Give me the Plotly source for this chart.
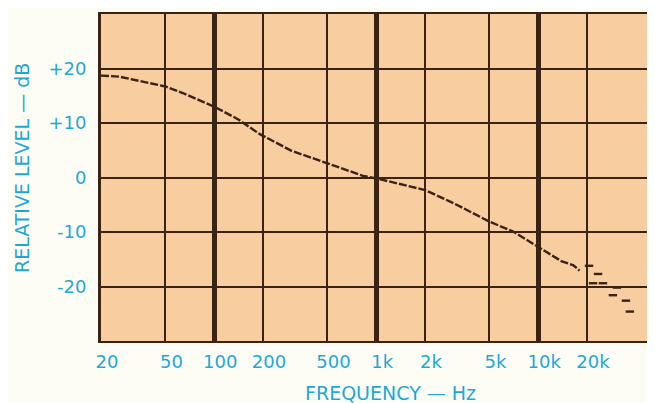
import plotly.graph_objects as go
import math

# Frequency response
freq_hz = [20, 26, 50, 64, 100, 140, 190, 300, 500, 830, 1050, 2000, 3000,
           5000, 7000, 10700, 14000, 16500, 18000]
level_db = [18.7, 18.5, 16.7, 15.5, 13.0, 10.7, 8.0, 4.9, 2.6, 0.3, -0.3, -2.3,
            -4.7, -8.1, -9.9, -13.3, -15.4, -16.1, -17.1]

# Scattered readings above 20 kHz
tail_freq_hz = [20600, 21800, 23400, 25100, 28900, 30600, 34800, 36800]
tail_level_db = [-16.2, -19.4, -17.7, -19.4, -21.6, -20.2, -22.6, -24.6]

x_tickvals = [20, 50, 100, 200, 500, 1000, 2000, 5000, 10000, 20000]
x_ticktext = ["20", "50", "100", "200", "500", "1k", "2k", "5k", "10k", "20k"]
decade_vals = [100, 1000, 10000]
y_tickvals = [-20, -10, 0, 10, 20]
y_ticktext = ["-20", "-10", "0", "+10", "+20"]

INK = "#3a2312"
BLUE = "#1fa8d4"
FONT = "DejaVu Sans"

fig = go.Figure()
fig.add_trace(go.Scatter(
    x=freq_hz, y=level_db, mode="lines",
    line=dict(color=INK, width=2.4, dash="8px,2px"),
    hoverinfo="skip", showlegend=False))
fig.add_trace(go.Scatter(
    x=tail_freq_hz, y=tail_level_db, mode="markers",
    marker=dict(symbol="line-ew", size=6, color=INK,
                line=dict(color=INK, width=2.4)),
    hoverinfo="skip", showlegend=False))

fig.update_layout(
    width=647, height=395,
    margin=dict(l=93, r=0, t=6, b=62),
    paper_bgcolor="#fdfdf6",
    plot_bgcolor="#f8cda0",
    font=dict(family=FONT, color=BLUE, size=18),
    xaxis=dict(
        type="log",
        range=[math.log10(20), math.log10(52600)],
        tickmode="array", tickvals=x_tickvals, ticktext=x_ticktext,
        showgrid=True, gridcolor=INK, gridwidth=2,
        minor=dict(tickmode="array", tickvals=decade_vals, showgrid=True,
                   gridcolor=INK, gridwidth=5, ticks=""),
        showline=True, linecolor=INK, linewidth=2, mirror=True,
        ticks="", ticklabelstandoff=3, ticklabelshift=6,
        tickfont=dict(size=18, color=BLUE, family=FONT),
        zeroline=False,
    ),
    yaxis=dict(
        range=[-30, 30],
        tickmode="array", tickvals=y_tickvals, ticktext=y_ticktext,
        showgrid=True, gridcolor=INK, gridwidth=2,
        showline=True, linecolor=INK, linewidth=3,
        ticks="", ticklabelstandoff=8,
        tickfont=dict(size=18, color=BLUE, family=FONT),
        zeroline=False,
    ),
    annotations=[
        dict(text="RELATIVE LEVEL — dB", xref="paper", yref="paper",
             x=(22 - 101) / 554, y=(341 - 168) / 327, textangle=-90,
             xanchor="center", yanchor="middle", showarrow=False,
             font=dict(size=19, color=BLUE, family=FONT)),
        dict(text="FREQUENCY — Hz", xref="paper", yref="paper",
             x=(390 - 101) / 554, y=(341 - 393) / 327,
             xanchor="center", yanchor="middle", showarrow=False,
             font=dict(size=19, color=BLUE, family=FONT)),
    ],
)

fig.write_html("out.html")
